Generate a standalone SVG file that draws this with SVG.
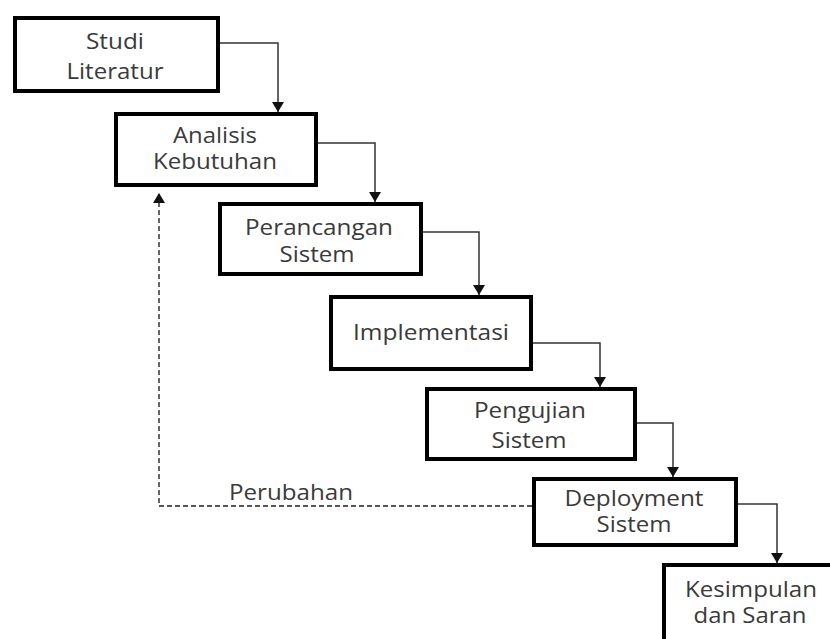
<svg xmlns="http://www.w3.org/2000/svg" width="830" height="639" viewBox="0 0 830 639">
<defs>
<marker id="ah" viewBox="0 0 10 12" refX="10" refY="6" markerWidth="10" markerHeight="12" markerUnits="userSpaceOnUse" orient="auto">
<path d="M0,0 L10,6 L0,12 Z" fill="#111"/>
</marker>
</defs>
<style>
.box{fill:#fff;stroke:#000;stroke-width:4}
.t{font-family:"Open Sans","Liberation Sans",sans-serif;font-size:21px;fill:#3a3a3a;text-anchor:middle}
.c{fill:none;stroke:#333;stroke-width:1.5}
.d{fill:none;stroke:#555;stroke-width:1.8;stroke-dasharray:5,3}
</style>
<rect width="830" height="639" fill="#fff"/>
<g id="connectors">
<path class="c" d="M220,43 H278 V112" marker-end="url(#ah)"/>
<path class="c" d="M318,143 H375 V202" marker-end="url(#ah)"/>
<path class="c" d="M423,232 H479 V295" marker-end="url(#ah)"/>
<path class="c" d="M533,343 H600 V387" marker-end="url(#ah)"/>
<path class="c" d="M637,423 H673 V477" marker-end="url(#ah)"/>
<path class="c" d="M738,504 H777 V563" marker-end="url(#ah)"/>
<path class="d" d="M532,506 H159 V193" marker-end="url(#ah)"/>
<text class="t" x="291" y="500" textLength="124" lengthAdjust="spacingAndGlyphs">Perubahan</text>
</g>
<g id="studi">
<rect class="box" x="15" y="18" width="203" height="73"/>
<text class="t" x="115" y="49" textLength="58" lengthAdjust="spacingAndGlyphs">Studi</text>
<text class="t" x="115" y="79" textLength="97" lengthAdjust="spacingAndGlyphs">Literatur</text>
</g>
<g id="analisis">
<rect class="box" x="116" y="114" width="200" height="71"/>
<text class="t" x="215" y="143" textLength="84" lengthAdjust="spacingAndGlyphs">Analisis</text>
<text class="t" x="215" y="169" textLength="124" lengthAdjust="spacingAndGlyphs">Kebutuhan</text>
</g>
<g id="perancangan">
<rect class="box" x="220" y="204" width="201" height="70"/>
<text class="t" x="319" y="235" textLength="148" lengthAdjust="spacingAndGlyphs">Perancangan</text>
<text class="t" x="317" y="262" textLength="75" lengthAdjust="spacingAndGlyphs">Sistem</text>
</g>
<g id="implementasi">
<rect class="box" x="331" y="297" width="200" height="72"/>
<text class="t" x="431" y="340" textLength="156" lengthAdjust="spacingAndGlyphs">Implementasi</text>
</g>
<g id="pengujian">
<rect class="box" x="427" y="389" width="208" height="70"/>
<text class="t" x="530" y="418" textLength="112" lengthAdjust="spacingAndGlyphs">Pengujian</text>
<text class="t" x="529" y="448" textLength="75" lengthAdjust="spacingAndGlyphs">Sistem</text>
</g>
<g id="deployment">
<rect class="box" x="534" y="479" width="202" height="66"/>
<text class="t" x="634" y="506" textLength="139" lengthAdjust="spacingAndGlyphs">Deployment</text>
<text class="t" x="634" y="532" textLength="75" lengthAdjust="spacingAndGlyphs">Sistem</text>
</g>
<g id="kesimpulan">
<rect class="box" x="664" y="565" width="200" height="100"/>
<text class="t" x="751" y="597" textLength="132" lengthAdjust="spacingAndGlyphs">Kesimpulan</text>
<text class="t" x="750" y="623" textLength="113" lengthAdjust="spacingAndGlyphs">dan Saran</text>
</g>
</svg>
